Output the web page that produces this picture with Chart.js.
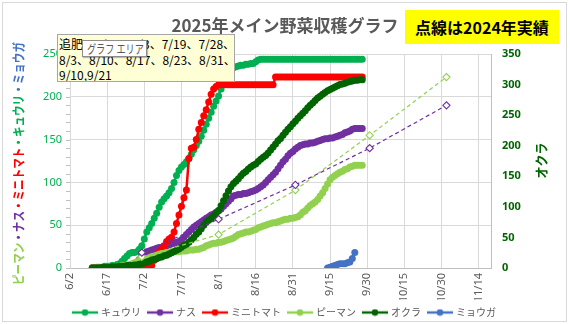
<!DOCTYPE html>
<html><head><meta charset="utf-8">
<script src="https://cdn.jsdelivr.net/npm/chart.js@4/dist/chart.umd.min.js"></script>
<style>
html,body{margin:0;padding:0;background:#fff;}
#wrap{position:relative;width:570px;height:324px;overflow:hidden;background:#fff;}
#c{position:absolute;left:0;top:0;}
.frame{position:absolute;left:2px;top:2px;width:565px;height:320px;border:1px solid #d9d9d9;box-sizing:border-box;pointer-events:none;}
.note{position:absolute;left:405px;top:10px;width:154px;height:34px;background:#ffff00;font:bold 16px "Noto Sans CJK JP";display:flex;align-items:center;justify-content:center;color:#000;}
.memo{position:absolute;left:57px;top:34px;width:178px;height:48px;background:#ffffd6;border:1px solid #a6a6a6;box-sizing:border-box;font:12px "Noto Sans CJK JP";line-height:15.5px;padding:1px 0 0 1px;color:#000;white-space:pre;overflow:hidden;}
.tip{position:absolute;left:82px;top:40px;width:65px;height:17px;background:#fff;border:1px solid #8c8c8c;box-sizing:border-box;box-shadow:1px 1px 1px rgba(0,0,0,0.25);overflow:hidden;}
.tip span{position:absolute;left:4px;top:0px;font:12px "Noto Sans CJK JP";color:#575757;white-space:nowrap;transform:scaleX(0.76);transform-origin:0 0;line-height:15px;}
</style></head>
<body>
<div id="wrap">
<canvas id="c" width="570" height="324"></canvas>
<div class="frame"></div>
<div class="note">点線は2024年実績</div>
<div class="memo">追肥：6/21、7/3、7/19、7/28、
8/3、8/10、8/17、8/23、8/31、
9/10,9/21</div>
<div class="tip"><span>グラフ エリア</span></div>
</div>
<script>
// ---- data ----
const titleText = '2025年メイン野菜収穫グラフ';
const dayLabels = ['6/2','6/17','7/2','7/17','8/1','8/16','8/31','9/15','9/30','10/15','10/30','11/14'];
const seriesNames = ['キュウリ','ナス','ミニトマト','ピーマン','オクラ','ミョウガ'];

// daily cumulative harvest, starting at given date
const kyuriStart = '6/11';
const kyuri = [0,0,1,1,1,2,2,2,3,3,4,5,8,11,14,17,18,18,19,22,26,34,42,47,52,58,64,71,77,81,
  84,88,93,100,108,114,118,121,124,128,133,138,143,148,154,161,168,175,182,189,195,201,209,216,222,227,231,234,235,236,
  237,237,238,238,239,239,241,243,244,244,244,244,244,244,244,244,244,244,244,244,244,244,244,244,244,244,244,244,244,244,
  244,244,244,244,244,244,244,244,244,244,244,244,244,244,244,244,244,244,244,244];
const nasuStart = '6/11';
const nasu = [0,0,0,0,0,0,0,0,0,0,0,0,0,0,1,1,2,4,7,10,14,17,19,20,21,22,23,24,24,25,
  26,27,28,29,30,31,33,36,39,42,45,48,50,52,54,56,58,60,62,63,65,67,69,72,75,78,81,84,85,86,
  86,87,87,88,89,90,91,93,95,97,100,103,106,109,112,116,120,124,127,131,134,136,139,141,143,144,145,145,146,146,
  147,148,149,150,151,151,152,152,153,154,155,156,158,159,160,162,163,163,163,163];
const tomatoStart = '6/11';
const tomato = [0,0,0,0,0,0,0,0,0,0,0,0,0,0,0,0,0,0,0,0,0,0,0,0,3,9,15,19,22,26,
  31,34,36,42,52,62,72,82,91,128,140,141,150,162,170,178,185,194,203,209,212,214,214,214,214,214,214,214,214,214,
  214,214,214,214,214,214,214,214,214,214,214,214,214,214,223,223,223,223,223,223,223,223,223,223,223,223,223,223,223,223,
  223,223,223,223,223,223,223,223,223,223,223,223,223,223,223,223,223,223,223,223];
const pimanStart = '6/11';
const piman = [0,0,0,0,0,0,1,1,1,2,2,2,3,3,3,4,5,6,7,9,10,10,11,12,13,14,15,16,17,17,
  18,18,18,19,19,19,20,20,20,21,21,21,22,22,23,24,26,27,28,29,29,30,30,31,32,33,34,35,37,39,
  40,41,42,42,43,44,45,47,48,49,50,51,52,53,53,54,55,56,57,57,58,58,59,60,62,65,67,70,73,75,
  77,80,84,88,93,98,103,106,108,110,112,113,115,116,118,119,120,120,120,120];
const okraStart = '6/11';
const okra = [0,0,0,0,1,1,1,1,2,2,2,3,3,3,4,4,4,5,5,6,7,8,10,11,13,14,15,17,18,20,
  21,23,25,27,29,31,34,37,39,42,46,50,55,59,64,70,75,78,81,85,89,94,102,110,118,126,133,138,142,146,
  151,155,158,162,165,168,170,174,178,181,184,188,193,198,203,208,212,217,222,227,231,236,240,245,249,253,257,262,266,270,
  274,278,281,284,287,290,292,294,296,298,300,301,302,304,305,306,307,307,308,308];
const myogaStart = '9/14';
const myoga = [0,1,2,3,4,5,5,5,6,7,11,18];

// 2024 results (dotted)
const dates2024 = ['7/1','8/1','9/1','10/1','11/1'];
const nasu2024 = [18,57,97,140,190];
const piman2024 = [13,39,91,155,223];

const leftTitleParts = [['ピーマン','#92D050'],['・ナス','#7030A0'],['・ミニトマト','#FF0000'],['・キュウリ','#00B050'],['・ミョウガ','#4472C4']];
const rightTitleText = 'オクラ';

// ---- helpers ----
const C = {kyuri:'#00B050', nasu:'#7030A0', tomato:'#FF0000', piman:'#92D050', okra:'#006400', myoga:'#4472C4'};
function dayOf(md){ const p = md.split('/').map(Number); return Math.round((Date.UTC(2025,p[0]-1,p[1]) - Date.UTC(2025,5,2))/86400000); }
function daily(start, vals){ const d0 = dayOf(start); return vals.map((v,i)=>({x:d0+i, y:v})); }
function dated(ds, vals){ return vals.map((v,i)=>({x:dayOf(ds[i]), y:v})); }
function solid(label, data, color, axis, order){
  return {label, data, borderColor:color, backgroundColor:color, pointBackgroundColor:color, pointBorderColor:color,
    pointRadius:3.5, pointBorderWidth:0, pointHoverRadius:3.5, borderWidth:2.5, yAxisID:axis, order, tension:0};
}
function dotted(label, data, color){
  return {label, data, borderColor:color, backgroundColor:'#fff', borderDash:[4,3], borderWidth:1.2,
    pointStyle:'rectRot', pointRadius:3.6, pointBackgroundColor:'#fff', pointBorderColor:color, pointBorderWidth:1.1,
    yAxisID:'y', order:-1, tension:0};
}
function legendIcon(color){
  const cv = document.createElement('canvas'); cv.width = 26; cv.height = 8;
  const g = cv.getContext('2d');
  g.strokeStyle = color; g.lineWidth = 2.4; g.beginPath(); g.moveTo(0,4); g.lineTo(26,4); g.stroke();
  g.fillStyle = color; g.beginPath(); g.arc(13,4,3.3,0,Math.PI*2); g.fill();
  return cv;
}
const icons = [C.kyuri, C.nasu, C.tomato, C.piman, C.okra, C.myoga].map(legendIcon);

const extras = {
  id:'extras',
  afterDraw(chart){
    const ctx = chart.ctx, y = chart.scales.y, area = chart.chartArea;
    ctx.save();
    // minor tick marks on left axis
    ctx.strokeStyle = '#BFBFBF'; ctx.lineWidth = 1;
    for (let v = 0; v <= 250; v += 10){
      const py = Math.round(y.getPixelForValue(v)) + 0.5;
      ctx.beginPath(); ctx.moveTo(area.left - 4, py); ctx.lineTo(area.left, py); ctx.stroke();
    }
    // left axis title (multicoloured)
    ctx.font = 'bold 13px "Noto Sans CJK JP"';
    ctx.textBaseline = 'middle'; ctx.textAlign = 'left';
    let total = 0; leftTitleParts.forEach(p => total += ctx.measureText(p[0]).width);
    ctx.save();
    ctx.translate(18, 163.5); ctx.rotate(-Math.PI/2); ctx.scale(243/total, 1);
    let x = -total/2;
    leftTitleParts.forEach(p => { ctx.fillStyle = p[1]; ctx.fillText(p[0], x, 0); x += ctx.measureText(p[0]).width; });
    ctx.restore();
    // right axis title
    ctx.save();
    const w = ctx.measureText(rightTitleText).width;
    ctx.translate(541, 160.5); ctx.rotate(-Math.PI/2); ctx.scale(36/w, 1);
    ctx.fillStyle = C.okra; ctx.textAlign = 'center';
    ctx.fillText(rightTitleText, 0, 0);
    ctx.restore();
    ctx.restore();
  }
};

new Chart(document.getElementById('c'), {
  type:'line',
  data:{ datasets:[
    solid(seriesNames[0], daily(kyuriStart, kyuri), C.kyuri, 'y', 6),
    solid(seriesNames[1], daily(nasuStart, nasu), C.nasu, 'y', 5),
    solid(seriesNames[2], daily(tomatoStart, tomato), C.tomato, 'y', 4),
    solid(seriesNames[3], daily(pimanStart, piman), C.piman, 'y', 3),
    solid(seriesNames[4], daily(okraStart, okra), C.okra, 'y1', 2),
    solid(seriesNames[5], daily(myogaStart, myoga), C.myoga, 'y', 1),
    dotted('ナス2024', dated(dates2024, nasu2024), C.nasu),
    dotted('ピーマン2024', dated(dates2024, piman2024), C.piman)
  ]},
  options:{
    responsive:false, animation:false, devicePixelRatio:1,
    layout:{ padding:{ left:0, right:0, top:0, bottom:-3.5 } },
    plugins:{
      title:{ display:true, text:titleText, color:'#595959', font:{family:'"Noto Sans CJK JP"', size:17, weight:'bold'}, padding:{top:15, bottom:18.6} },
      legend:{ position:'bottom', labels:{
        usePointStyle:true, pointStyleWidth:22, padding:8, color:'#595959',
        font:{family:'"Noto Sans CJK JP"', size:10},
        filter:(it)=> it.datasetIndex < 6,
        sort:(a,b)=> a.datasetIndex - b.datasetIndex,
        generateLabels(chart){
          const items = Chart.defaults.plugins.legend.labels.generateLabels(chart);
          items.forEach(it => { it.pointStyle = icons[it.datasetIndex] || it.pointStyle; });
          return items;
        }
      }},
      tooltip:{ enabled:false }
    },
    scales:{
      x:{ type:'linear', min:0, max:170,
        afterFit(s){ s.height = 31.5; },
        grid:{ color:'#D9D9D9', drawTicks:false },
        border:{ color:'#BFBFBF' },
        ticks:{ stepSize:15, includeBounds:false, autoSkip:false, maxRotation:90, minRotation:90, padding:5,
          color:'#595959', font:{family:'"Noto Sans", sans-serif', size:11},
          callback:(v)=> dayLabels[v/15] ?? '' } },
      y:{ position:'left', min:0, max:250,
        afterFit(s){ s.width = 70; },
        grid:{ color:'#D9D9D9', drawTicks:false },
        border:{ color:'#D9D9D9' },
        ticks:{ stepSize:50, padding:8, color:'#00B050', font:{family:'"Noto Sans", sans-serif', size:11} } },
      y1:{ position:'right', min:0, max:350,
        afterFit(s){ s.width = 79; },
        grid:{ drawOnChartArea:false, drawTicks:false },
        border:{ color:'#BFBFBF' },
        ticks:{ stepSize:50, padding:11, color:C.okra, font:{family:'"Noto Sans", sans-serif', size:11, weight:'bold'} } }
    }
  },
  plugins:[extras]
});
</script>
</body></html>
